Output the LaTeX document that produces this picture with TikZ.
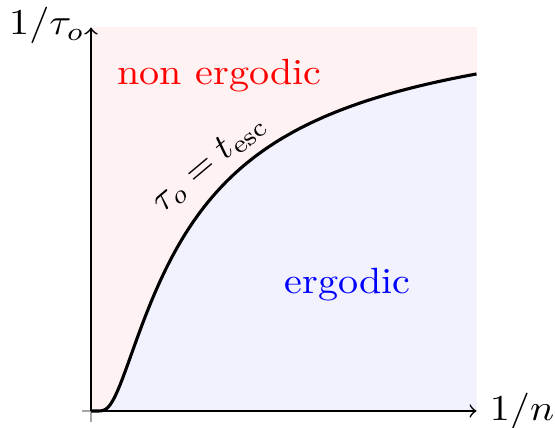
\documentclass[tikz,border=0pt]{standalone}
\begin{document}
\begin{tikzpicture}[x=0.274pt,y=-0.274pt,
  lbl/.style={inner sep=0pt,xscale=1.1},
  axisline/.style={line width=0.45pt,->},
  boundary/.style={line width=0.85pt,black}]
\useasboundingbox (0,0) rectangle (555,427);
\coordinate (O) at (91,411);
\coordinate (X) at (476.5,411);
\coordinate (Y) at (91,27.5);
\coordinate (TR) at (476.5,27.5);
% regions
\fill[red!5] (O) rectangle (TR);
\fill[blue!5] (O) -- (96,411) -- plot[domain=5:385.5,samples=160] ({91+\x},{411-415*exp(-80.3/\x)}) -- (X) -- cycle;
% small grey ticks at origin
\draw[gray!70,line width=0.4pt] (82,411) -- (O) -- (91,422);
% axes
\draw[axisline] (O) -- (X);
\draw[axisline] (O) -- (Y);
% boundary curve
\draw[boundary,line join=round] (O) -- (96,411) -- plot[domain=5:385.5,samples=160] ({91+\x},{411-415*exp(-80.3/\x)});
% labels
\node[lbl,anchor=base] (ylab) at (47,35) {$1/\tau_o$};
\node[lbl,anchor=base] (xlab) at (522,420) {$1/n$};
\node[lbl,anchor=base,red] (ne) at (219.5,84.5) {non ergodic};
\node[lbl,anchor=base,blue] (er) at (347.5,293.3) {ergodic};
\node[inner sep=0pt,rotate=40,xscale=1.02] (cl) at (209,163) {$\tau_o = t_{\mathrm{esc}}$};
\end{tikzpicture}
\end{document}
